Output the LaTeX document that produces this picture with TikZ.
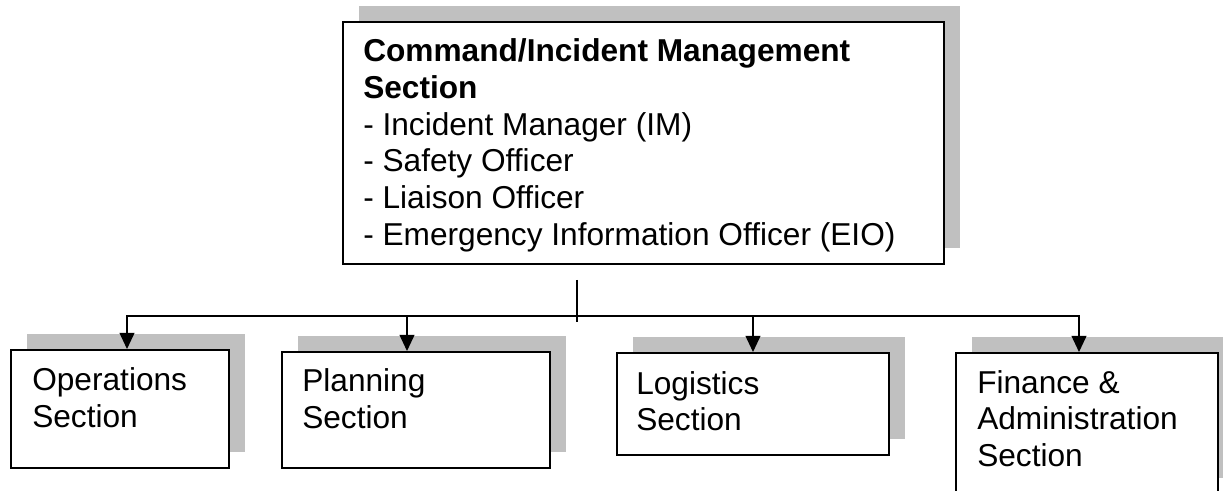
\documentclass[tikz,border=0pt]{standalone}
\usepackage{fontspec}
\setmainfont{Liberation Sans}
\usetikzlibrary{arrows.meta,shadows}

\definecolor{shadowgray}{RGB}{192,192,192}
\newcommand{\pxu}{0.025cm}

\tikzset{
  secbox/.style={draw=black, line width=1.35pt, fill=white, inner sep=0pt,
    anchor=north west,
    drop shadow={shadow xshift=0.39cm, shadow yshift=0.41cm,
      fill=shadowgray, opacity=1}},
  sectext/.style={anchor=north west, inner sep=0pt, align=left,
    font=\fontsize{22.5}{26.1}\selectfont},
  wire/.style={line width=0.9pt},
}

\begin{document}
\begin{tikzpicture}[x=0.025cm, y=-0.025cm, >={Triangle[length=0.4cm,width=0.37cm]}]

  \useasboundingbox (0,0) rectangle (1223,491);

        % top box
  \node[secbox, minimum width=601*\pxu, minimum height=242*\pxu] (cmd) at (342,21) {};
  \node[sectext] (cmdText) at (363,38.5)
    {\textbf{Command/Incident Management}\\
     \textbf{Section}\\
     - Incident Manager (IM)\\
     - Safety Officer\\
     - Liaison Officer\\
     - Emergency Information Officer (EIO)};

        % section boxes
  \node[secbox, minimum width=218*\pxu, minimum height=118*\pxu] (ops) at (10,349) {};
  \node[sectext] (opsText) at (32,367.5) {Operations\\Section};

  \node[secbox, minimum width=268*\pxu, minimum height=116*\pxu] (plan) at (281,351) {};
  \node[sectext] (planText) at (302,368.5) {Planning\\Section};

  \node[secbox, minimum width=272*\pxu, minimum height=102*\pxu] (logi) at (616,352) {};
  \node[sectext] (logiText) at (636,371) {Logistics\\Section};

  \node[secbox, minimum width=262*\pxu, minimum height=141*\pxu] (fin) at (955,352) {};
  \node[sectext] (finText) at (977,370) {Finance \&\\Administration\\Section};

  \coordinate (stubTop) at (577,280);
  \coordinate (stubBot) at (577,322);
  \coordinate (busL) at (127,316);
  \coordinate (busR) at (1079,316);
  \coordinate (tapPlan) at (407,316);
  \coordinate (tapLogi) at (753,316);

        % draw connectors
  \draw[wire, line width=1.1pt] (stubTop) -- (stubBot);
  \draw[wire, <->] (busL |- ops.north) -- (busL) -- (busR) -- (busR |- fin.north);
  \draw[wire, ->] (tapPlan) -- (tapPlan |- plan.north);
  \draw[wire, ->] (tapLogi) -- (tapLogi |- logi.north);

\end{tikzpicture}
\end{document}
